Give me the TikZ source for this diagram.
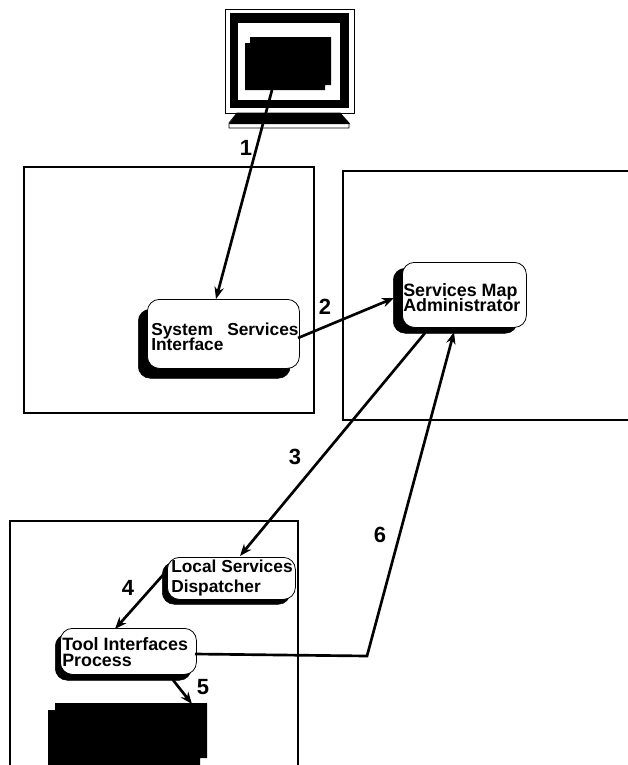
\documentclass[tikz,border=0pt]{standalone}
\usepackage{fontspec}
\setmainfont{Liberation Sans}
\usetikzlibrary{arrows.meta}
\newcommand{\tightlines}{\setlength{\lineskiplimit}{-20pt}}
\tikzset{
  frame/.style={draw=black,line width=1.5pt},
  svcbox/.style={draw=black,fill=white,line width=0.6pt,rounded corners=9pt,inner sep=0pt,anchor=north west},
  shade/.style={fill=black,draw=black,rounded corners=9pt,inner sep=0pt,anchor=north west},
  link/.style={draw=black,line width=2pt,-{Stealth[length=9pt,width=7pt]}},
  num/.style={font=\fontsize{16.5}{16.5}\selectfont\bfseries,inner sep=0pt},
  svctext/.style={align=left,inner sep=0pt,anchor=base west}
}
\begin{document}
\begin{tikzpicture}[x=0.75pt,y=-0.75pt]
\useasboundingbox (0,0) rectangle (628,765);
% frames
\draw[frame] (24,167) rectangle (314,413);
\draw[frame] (630,171) -- (343,171) -- (343,420) -- (630,420);
\draw[frame] (10,767) -- (10,521) -- (298,521) -- (298,767);
% monitor
\draw[black,line width=0.6pt,fill=white] (225.5,9.5) rectangle (354,113);
\fill[black] (230,13) rectangle (349,108);
\fill[white] (238,23) rectangle (340,100);
\fill[black] (250,37) -- (331,37) -- (331,85) -- (325,85) -- (325,90) -- (245,90) -- (245,43) -- (250,43) -- cycle;
\draw[black,line width=0.6pt,fill=white] (237,113) -- (340,113) -- (349,123) -- (349,128) -- (229,128) -- (229,123) -- cycle;
\fill[black] (237,113) -- (340,113) -- (350,124) -- (229,124) -- cycle;
\coordinate (screen) at (272,90);
% tool block
\fill[black] (55,703) -- (207,703) -- (207,758) -- (200,758) -- (200,767) -- (48,767) -- (48,710) -- (55,710) -- cycle;
\coordinate (toolTop) at (192,704);
% shadows
\node[shade,minimum width=152*0.75pt,minimum height=69*0.75pt] (ssiS) at (138,309) {};
\node[shade,minimum width=124*0.75pt,minimum height=65*0.75pt] (smaS) at (393,268) {};
\node[shade,minimum width=128*0.75pt,minimum height=42*0.75pt] (ldsS) at (162,562) {};
\node[shade,minimum width=136*0.75pt,minimum height=46*0.75pt] (tipS) at (55,634) {};
% boxes
\node[svcbox,minimum width=152*0.75pt,minimum height=69*0.75pt] (ssi) at (147,299) {};
\node[svcbox,minimum width=124*0.75pt,minimum height=65*0.75pt] (sma) at (402,262) {};
\node[svcbox,minimum width=128*0.75pt,minimum height=42*0.75pt] (lds) at (167,557) {};
\node[svcbox,minimum width=136*0.75pt,minimum height=46*0.75pt] (tip) at (60,628) {};
% text
\node[svctext,font=\fontsize{13}{11.2}\selectfont\bfseries\tightlines] (ssiT) at (151,350) {System\hspace{0.55em} Services\\Interface};
\node[svctext,font=\fontsize{13.4}{11.2}\selectfont\bfseries\tightlines] (smaT) at (403,311) {Services Map\\Administrator};
\node[svctext,font=\fontsize{13}{15}\selectfont\bfseries\tightlines] (ldsT) at (171,592) {Local Services\\Dispatcher};
\node[svctext,font=\fontsize{13.4}{12}\selectfont\bfseries\tightlines] (tipT) at (62,666) {Tool Interfaces\\Process};
% connector ends
\coordinate (a1) at (216,299);
\coordinate (s2) at (298,338);
\coordinate (e2) at (394,298);
\coordinate (s3) at (425,333);
\coordinate (e3) at (240,556);
\coordinate (s4) at (163,575);
\coordinate (e4) at (115,629);
\coordinate (s5) at (173,680);
\coordinate (s6) at (195,654);
\coordinate (b6) at (367,656);
\coordinate (e6) at (454,332);
% connectors
\draw[link] (screen) -- (a1);
\draw[link] (s2) -- (e2);
\draw[link] (s3) -- (e3);
\draw[link] (s4) -- (e4);
\draw[link] (s5) -- (toolTop);
\draw[link,line join=miter] (s6) -- (b6) -- (e6);
% numbers
\node[num] (n1) at (246,148) {1};
\node[num] (n2) at (325,307) {2};
\node[num] (n3) at (295,457) {3};
\node[num] (n4) at (128,588) {4};
\node[num] (n5) at (203,687) {5};
\node[num] (n6) at (380,535) {6};
\end{tikzpicture}
\end{document}
